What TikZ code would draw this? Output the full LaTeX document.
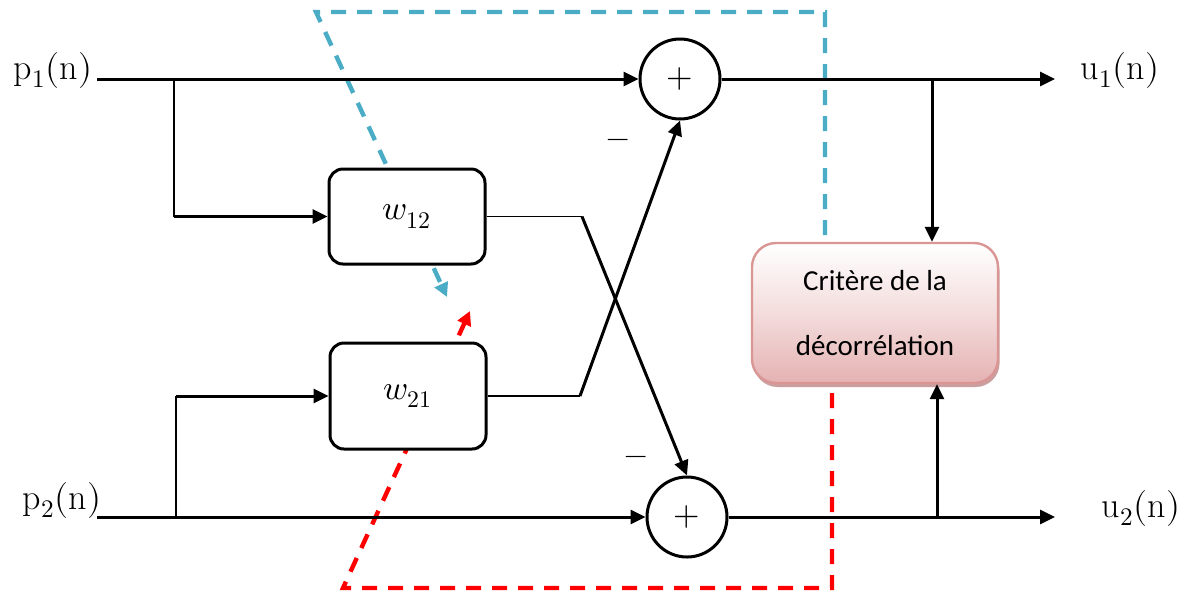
\documentclass[tikz,border=0pt]{standalone}
\usepackage{fontspec}
\usepackage{unicode-math}
\setmathfont{Latin Modern Math}
\newfontfamily\calib{Carlito}
\usetikzlibrary{arrows.meta,shadows,calc}

\definecolor{fbblue}{RGB}{75,172,198}
\definecolor{fbred}{RGB}{255,0,0}
\definecolor{critborder}{RGB}{217,150,148}
\definecolor{critfill}{RGB}{229,178,178}
\definecolor{critshadow}{RGB}{190,135,135}

\begin{document}
\begin{tikzpicture}[x=0.5pt,y=-0.5pt,
  tip/.style={-{Triangle[length=7.5pt,width=7pt]}},
  sig/.style={line width=1.5pt},
  sigarrow/.style={sig,tip},
  thinline/.style={line width=0.9pt},
  wbox/.style={draw,line width=1.5pt,rounded corners=7pt,fill=white,
    inner sep=0pt,minimum width=78pt,font=\fontsize{17}{20}\selectfont},
  sumnode/.style={draw,circle,line width=1.5pt,fill=white,inner sep=0pt,
    minimum size=40pt,font=\fontsize{17}{20}\selectfont},
  critbox/.style={draw=critborder,line width=1.2pt,rounded corners=12pt,
    top color=white,bottom color=critfill,middle color=critfill!45,
    minimum width=123pt,minimum height=70pt,inner sep=0pt,align=center,
    font=\calib\fontsize{14.5}{32.5}\selectfont,
    drop shadow={shadow xshift=0.8pt,shadow yshift=-2pt,fill=critshadow,opacity=0.8}},
  siglabel/.style={font=\fontsize{18}{21}\selectfont},
  signlabel/.style={font=\fontsize{15}{18}\selectfont},
  feedback/.style={line width=2.2pt,dash pattern=on 7.5pt off 5.5pt,
    -{Triangle[length=7pt,width=7pt]}}
]
\useasboundingbox (0,0) rectangle (1192,596);

% feedback paths from the decorrelation criterion to the cross filters
\coordinate (bstart) at (825,235);
\coordinate (btop1) at (825,12);
\coordinate (btop2) at (316,12);
\coordinate (bend) at (447,297);
\draw[feedback,fbblue] (bstart) -- (btop1) -- (btop2) -- (bend);

\coordinate (rstart) at (832,393);
\coordinate (rbot1) at (832,588);
\coordinate (rbot2) at (343,588);
\coordinate (rend) at (470,311);
\draw[feedback,fbred] (rstart) -- (rbot1) -- (rbot2) -- (rend);

% blocks
\node[wbox,minimum height=47.5pt] (w12) at (407,216.5) {$w_{12}$};
\node[wbox,minimum height=53pt] (w21) at (408,396) {$w_{21}$};
\node[sumnode] (s1) at (680,79) {$+$};
\node[sumnode] (s2) at (687,517) {$+$};
\node[critbox] (crit) at (875,313) {Critère de la\\décorrélation};

% signal labels
\node[siglabel] (p1) at (53,70) {$\mathrm{p}_1(\mathrm{n})$};
\node[siglabel] (p2) at (62,500) {$\mathrm{p}_2(\mathrm{n})$};
\node[siglabel] (u1) at (1120,70) {$\mathrm{u}_1(\mathrm{n})$};
\node[siglabel] (u2) at (1141,508) {$\mathrm{u}_2(\mathrm{n})$};
\node[signlabel] (m1) at (618,143) {$-$};
\node[signlabel] (m2) at (636,460) {$-$};

% junction points
\coordinate (in1) at (97,79);
\coordinate (in2) at (97,517);
\coordinate (j1) at (174,79);
\coordinate (j2) at (176,517);
\coordinate (k12) at (582,216.5);
\coordinate (k21) at (580,396);
\coordinate (b1) at (932,79);
\coordinate (b2) at (937,517);
\coordinate (out1) at (1055,79);
\coordinate (out2) at (1055,517);

% direct paths
\draw[sigarrow] (in1) -- (s1.west);
\draw[sigarrow] (in2) -- (s2.west);

% branches into the cross filters
\draw[thinline] (j1) -- (j1 |- w12.west);
\draw[sigarrow] (j1 |- w12.west) -- (w12.west);
\draw[thinline] (j2) -- (j2 |- w21.west);
\draw[sigarrow] (j2 |- w21.west) -- (w21.west);

% cross couplings
\draw[thinline] (w12.east) -- (k12);
\draw[sigarrow] (k12) -- (s2.north);
\draw[thinline] (w21.east) -- (k21);
\draw[sigarrow] (k21) -- (s1.south);

% outputs
\draw[sigarrow] (s1.east) -- (out1);
\draw[sigarrow] (s2.east) -- (out2);
\draw[sigarrow] (b1) -- (b1 |- crit.north);
\draw[sigarrow] (b2) -- (b2 |- crit.south);
\end{tikzpicture}
\end{document}
